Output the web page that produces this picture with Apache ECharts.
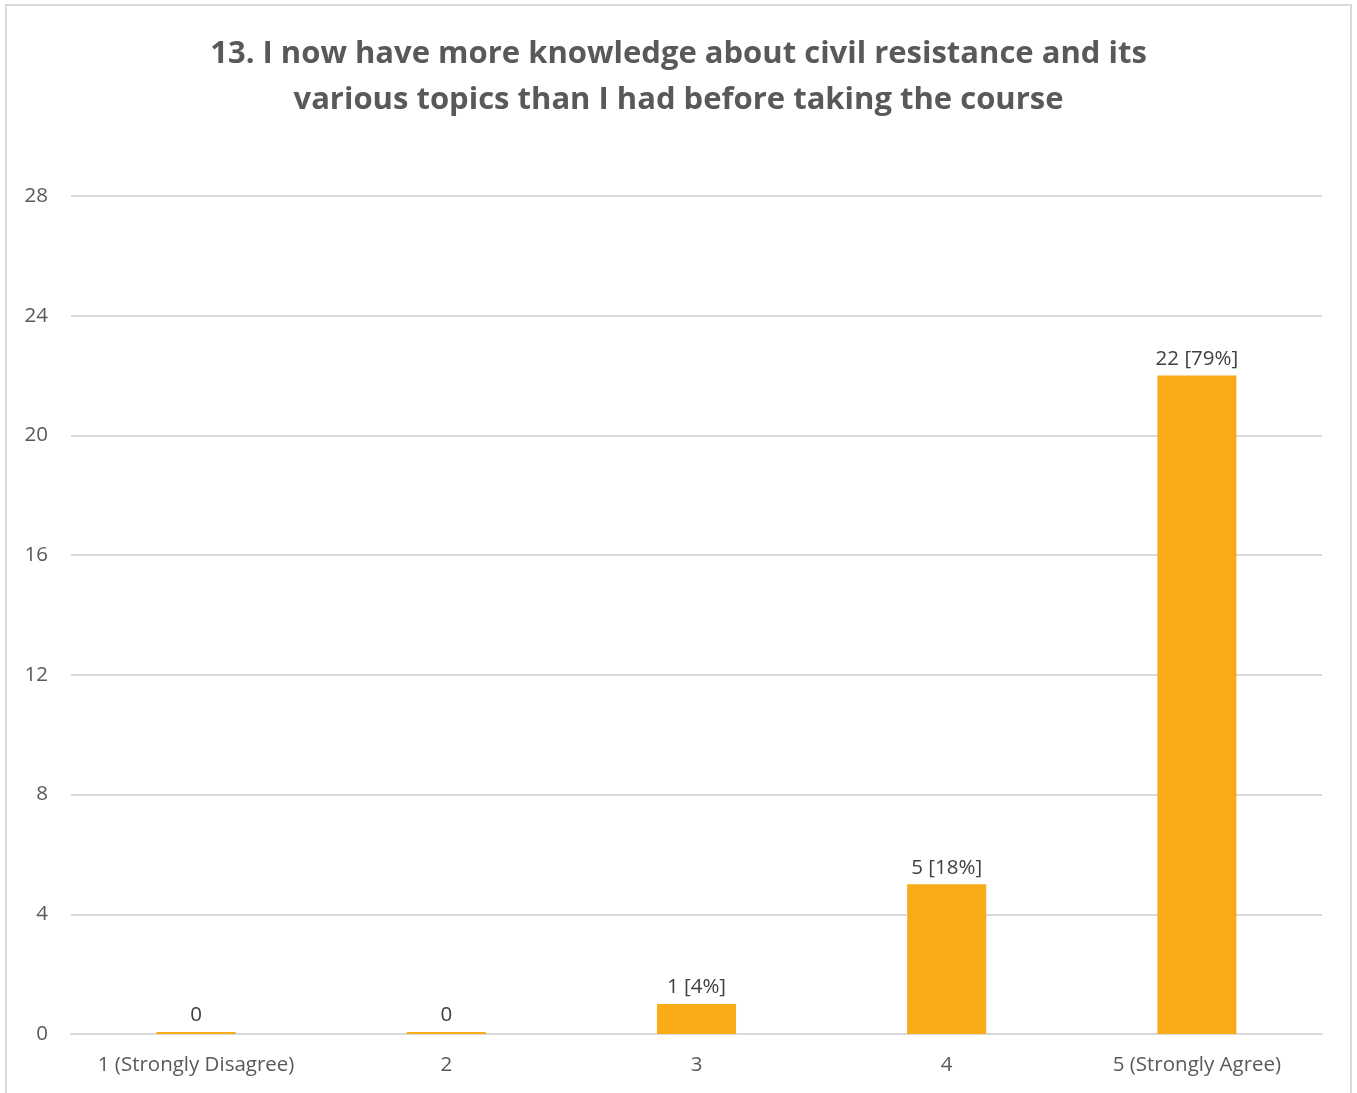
<!DOCTYPE html>
<html>
<head>
<meta charset="utf-8">
<script src="https://cdn.jsdelivr.net/npm/echarts@6/dist/echarts.min.js"></script>
<style>
html,body{margin:0;padding:0;background:#fff;}
#chart{width:1357px;height:1093px;}
</style>
</head>
<body>
<div id="chart"></div>
<script>
const categories = ['1 (Strongly Disagree)', '2', '3', '4', '5 (Strongly Agree)'];
const counts = [0, 0, 1, 5, 22];
const percents = [0, 0, 4, 18, 79];
const yTicks = [0, 4, 8, 12, 16, 20, 24, 28];
const titleText = '13. I now have more knowledge about civil resistance and its\nvarious topics than I had before taking the course';

const chart = echarts.init(document.getElementById('chart'), null, {renderer: 'canvas'});
const FONT = '"Open Sans", "Liberation Sans", sans-serif';
chart.setOption({
  animation: false,
  backgroundColor: '#fff',
  title: {
    text: titleText,
    left: 'center',
    top: 26,
    textStyle: {
      fontFamily: FONT, fontWeight: 'bold', fontSize: 31, color: '#595959', lineHeight: 46
    }
  },
  graphic: [{
    type: 'rect',
    shape: {x: 6, y: 5, width: 1345, height: 1110},
    style: {fill: 'none', stroke: '#d9d9d9', lineWidth: 2},
    silent: true
  }],
  grid: {left: 71, right: 35, top: 196, bottom: 59, containLabel: false},
  xAxis: {
    type: 'category',
    data: categories,
    axisLine: {show: true, lineStyle: {color: '#d9d9d9', width: 2}},
    axisTick: {show: false},
    axisLabel: {fontFamily: FONT, fontSize: 20.5, color: '#595959', margin: 21, interval: 0}
  },
  yAxis: {
    type: 'value',
    min: yTicks[0],
    max: yTicks[yTicks.length - 1],
    interval: 4,
    axisLine: {show: false},
    axisTick: {show: false},
    splitLine: {lineStyle: {color: '#d9d9d9', width: 2}},
    axisLabel: {fontFamily: FONT, fontSize: 20.5, color: '#595959', margin: 23}
  },
  series: [{
    type: 'bar',
    data: counts,
    barWidth: '31.6%',
    barMinHeight: 2,
    itemStyle: {color: '#F9AB18'},
    label: {
      show: true,
      position: 'top',
      distance: 6,
      fontFamily: FONT,
      fontSize: 20.5,
      color: '#404040',
      formatter: function (p) {
        const v = counts[p.dataIndex];
        return v === 0 ? '0' : v + ' [' + percents[p.dataIndex] + '%]';
      }
    }
  }]
});
</script>
</body>
</html>
